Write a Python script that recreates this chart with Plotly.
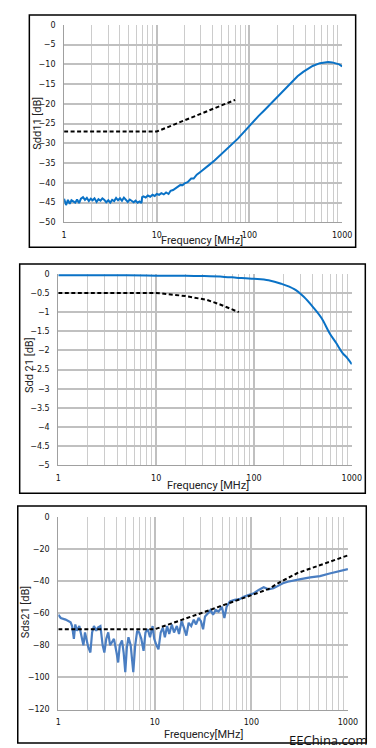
import plotly.graph_objects as go

# ---------------- data ----------------
# Panel 1: Sdd11
sdd11_f = [1.00, 1.05, 1.10, 1.15, 1.20, 1.26, 1.32, 1.38, 1.45, 1.52, 1.60, 1.68, 1.76, 1.85,
           1.94, 2.03, 2.13, 2.24, 2.35, 2.47, 2.59, 2.72, 2.85, 3.00, 3.15, 3.30, 3.47, 3.64,
           3.82, 4.01, 4.21, 4.42, 4.64, 4.87, 5.11, 5.37, 5.63, 5.91, 6.21, 6.52, 6.84, 6.95,
           7.2, 7.6, 8.0, 8.5, 9.0, 9.5, 10.0, 10.6, 11.2, 11.9, 12.6, 13.4, 14.1, 15, 16, 17,
           18, 19, 20, 21.5, 23.5, 25, 27, 30, 33, 36.5, 42, 50, 58, 66.5, 75, 85, 95, 107,
           125, 145, 174, 210, 245, 280, 330, 380, 419, 480, 576, 650, 706, 780, 859, 930, 1000]
sdd11_db = [-44.0, -45.6, -44.3, -45.3, -44.4, -44.8, -45.0, -44.2, -45.1, -44.0, -43.6, -44.3,
            -43.8, -44.6, -44.0, -44.4, -43.9, -44.8, -44.1, -44.5, -43.9, -44.3, -44.9, -44.4,
            -45.0, -44.3, -44.6, -43.8, -44.4, -43.9, -44.5, -43.7, -44.3, -44.8, -44.2, -44.6,
            -44.9, -44.5, -45.0, -44.7, -45.1, -43.6,
            -43.4, -43.7, -43.2, -43.5, -43.0, -43.3, -42.8, -43.0, -42.6, -42.9, -42.4, -42.8,
            -42.0, -41.8, -41.3, -41.0, -40.5, -40.6, -40.1, -39.8, -38.9, -38.9, -37.9, -37.1,
            -36.2, -35.5, -34.3, -32.7, -31.3, -30.1, -28.8, -27.4, -26.1, -24.7,
            -23.1, -21.6, -19.7, -17.7, -16.1, -14.7, -13.0, -11.9, -11.2, -10.4, -9.7, -9.45,
            -9.4, -9.5, -9.7, -10.0, -10.5]
sdd11_lim_f = [1, 10, 70]
sdd11_lim_db = [-27, -27, -19]

# Panel 2: Sdd21
sdd21_f = [1, 2, 5, 10, 20, 31, 50, 66, 100, 141, 190, 258, 323, 405, 492, 593, 690, 802, 900, 1000]
sdd21_db = [-0.04, -0.04, -0.04, -0.05, -0.05, -0.06, -0.08, -0.10, -0.13, -0.17, -0.26, -0.40,
            -0.60, -0.88, -1.16, -1.55, -1.80, -2.06, -2.20, -2.36]
sdd21_lim_f = [1, 10, 20, 33, 45, 70]
sdd21_lim_db = [-0.5, -0.5, -0.58, -0.68, -0.80, -1.0]

# Panel 3: Sds21
sds21_f = [1.00, 1.06, 1.19, 1.34, 1.39, 1.45, 1.50, 1.56, 1.65, 1.72, 1.82, 1.89, 1.97, 2.04,
           2.15, 2.24, 2.34, 2.47, 2.57, 2.73, 2.88, 3.00, 3.14, 3.29, 3.44, 3.63, 3.77, 4.01,
           4.17, 4.33, 4.57, 4.75, 4.94, 5.13, 5.33, 5.62, 5.98, 6.26, 6.56, 6.87, 7.24, 7.64,
           8.00, 8.45, 8.91, 9.48, 9.85, 10.4, 10.9, 11.5, 12.1, 12.7, 13.4, 14.1, 15.0, 15.8,
           16.9, 17.8, 18.9, 20.0, 21.2, 22.4, 23.8, 25.3, 26.7, 28.4, 30.0, 31.6, 33.1, 35.5,
           37.7, 40.1, 42.7, 45.7, 49.4, 52.5, 55.4, 59.8, 67.1, 75.3, 84.5, 94.8, 106, 119,
           134, 150, 169, 189, 212, 238, 278, 324, 407, 513, 646, 813, 1000]
sds21_db = [-61, -63, -64, -65.6, -68, -76, -67, -71, -68, -74, -80, -72, -78, -81,
            -84.5, -72, -68, -71, -69, -68, -80, -84.5, -76, -72, -80, -78, -76, -84.5,
            -90.7, -80, -77, -84.5, -96.8, -81.4, -75, -80, -96.8, -80, -71, -72, -76, -83.5,
            -72, -70, -75, -68, -76, -80, -82.5, -72, -69, -75, -68, -73, -67, -72,
            -68, -73, -65, -69, -74, -66, -68, -64, -67, -63, -65, -70, -62, -60,
            -58, -61, -58, -59, -56, -63, -56, -52.7, -51.7, -51.3, -49.6, -48.6, -47.6, -45.5,
            -43.9, -45.1, -44.5, -43, -41.4, -40.4, -39.4, -38.8, -37.7, -36.9, -35.3, -33.8, -32.6]
sds21_lim_f = [1, 10, 30, 100, 150, 200, 300, 1000]
sds21_lim_db = [-70, -70, -60, -49, -45, -40.5, -35, -24]

x_tickvals = [1, 10, 100, 1000]
x_ticktext = ["1", "10", "100", "1000"]
x_minor = [2, 3, 4, 5, 6, 7, 8, 9, 20, 30, 40, 50, 60, 70, 80, 90, 200, 300, 400, 500, 600, 700, 800, 900]

y1_ticks = [0, -5, -10, -15, -20, -25, -30, -35, -40, -45, -50]
y2_ticks = [0, -0.5, -1, -1.5, -2, -2.5, -3, -3.5, -4, -4.5, -5]
y3_ticks = [0, -20, -40, -60, -80, -100, -120]

# ---------------- layout helpers ----------------
W, H = 376, 748
def px(x):
    return x / W
def py(y):
    return 1 - y / H

BLUE = "#0A72C6"
BLUE3 = "#4A7EC2"
GRID = "#C0C0C0"
GRIDMIN = "#CCCCCC"
TICKFONT = dict(family="DejaVu Sans", size=8, color="#111")

fig = go.Figure()

fig.add_trace(go.Scatter(x=sdd11_f, y=sdd11_db, mode="lines", line=dict(color=BLUE, width=2),
                         xaxis="x", yaxis="y", showlegend=False))
fig.add_trace(go.Scatter(x=sdd11_lim_f, y=sdd11_lim_db, mode="lines",
                         line=dict(color="black", width=2, dash="4px,2.5px"),
                         xaxis="x", yaxis="y", showlegend=False))
fig.add_trace(go.Scatter(x=sdd21_f, y=sdd21_db, mode="lines", line=dict(color=BLUE, width=2, shape="spline"),
                         xaxis="x2", yaxis="y2", showlegend=False))
fig.add_trace(go.Scatter(x=sdd21_lim_f, y=sdd21_lim_db, mode="lines",
                         line=dict(color="black", width=2, dash="4px,2.5px"),
                         xaxis="x2", yaxis="y2", showlegend=False))
fig.add_trace(go.Scatter(x=sds21_f, y=sds21_db, mode="lines", line=dict(color=BLUE3, width=2.2),
                         xaxis="x3", yaxis="y3", showlegend=False))
fig.add_trace(go.Scatter(x=sds21_lim_f, y=sds21_lim_db, mode="lines",
                         line=dict(color="black", width=2, dash="4px,2.5px"),
                         xaxis="x3", yaxis="y3", showlegend=False))

def xaxis(domain, anchor):
    return dict(type="log", domain=domain, anchor=anchor, range=[0, 3],
                tickvals=x_tickvals, ticktext=x_ticktext, tickfont=TICKFONT,
                showgrid=True, gridcolor=GRID, gridwidth=1.5,
                minor=dict(tickvals=x_minor, showgrid=True, gridcolor=GRIDMIN, gridwidth=1, ticklen=0),
                showline=True, linecolor="#A0A0A0", linewidth=1, mirror=False,
                ticks="", zeroline=False, fixedrange=True, ticklabelstandoff=5)

def yaxis(domain, anchor, rng, ticks):
    return dict(domain=domain, anchor=anchor, range=rng, tickvals=ticks,
                tickfont=TICKFONT, showgrid=True, gridcolor=GRID, gridwidth=2,
                showline=True, linecolor="#A0A0A0", linewidth=1,
                ticks="", zeroline=False, fixedrange=True, ticklabelstandoff=6)

fig.update_layout(
    width=W, height=H, margin=dict(l=0, r=0, t=0, b=0),
    paper_bgcolor="white", plot_bgcolor="white",
    xaxis=xaxis([px(55), px(343)], "y"),
    yaxis=yaxis([py(213), py(13)], "x", [-50, 0], y1_ticks),
    xaxis2=xaxis([px(49), px(353)], "y2"),
    yaxis2=yaxis([py(459), py(265)], "x2", [-5, 0], y2_ticks),
    xaxis3=xaxis([px(49), px(349)], "y3"),
    yaxis3=yaxis([py(706), py(511)], "x3", [-120, 0], y3_ticks),
)

# outer chart borders
for (x0, y0, x1, y1) in [(19, 3, 357, 238), (9, 255, 367, 487), (7, 500, 368, 740)]:
    fig.add_shape(type="rect", xref="paper", yref="paper",
                  x0=px(x0), x1=px(x1), y0=py(y0), y1=py(y1),
                  line=dict(color="black", width=1.5), fillcolor="rgba(0,0,0,0)")

TITLEFONT = dict(family="Roboto", size=11, color="#222")
annots = [
    ("Frequency [MHz]", 198, 231, 0),
    ("Frequency [MHz]", 204, 479, 0),
    ("Frequency[MHz]", 199, 731, 0),
    ("Sdd11 [dB]", 28, 113, -90),
    ("Sdd 21 [dB]", 19, 357, -90),
    ("Sds21 [dB]", 15, 607, -90),
]
for text, x, y, ang in annots:
    fig.add_annotation(text=text, xref="paper", yref="paper", x=px(x), y=py(y),
                       showarrow=False, textangle=ang, font=TITLEFONT,
                       xanchor="center", yanchor="middle")

fig.add_annotation(text="EEChina.com", xref="paper", yref="paper", x=px(372), y=py(737),
                   showarrow=False, font=dict(family="Open Sans", size=13, color="#111"),
                   xanchor="right", yanchor="middle")

fig.write_html("out.html")
